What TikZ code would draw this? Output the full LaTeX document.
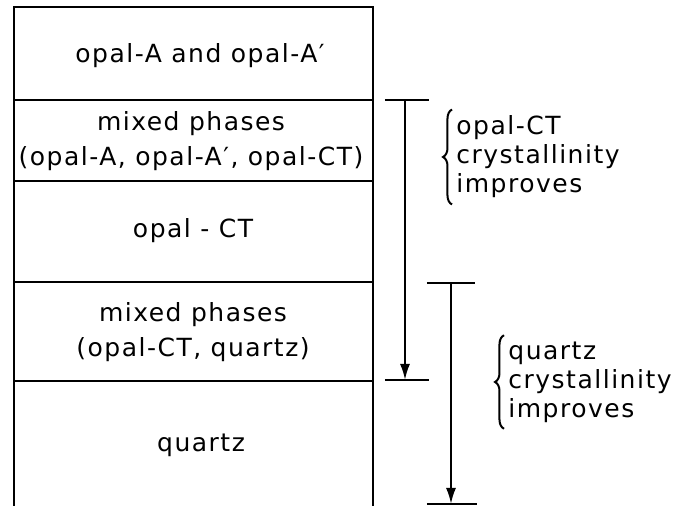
\documentclass[tikz,border=0pt]{standalone}
\usepackage{fontspec}
\setmainfont[LetterSpace=6]{DejaVu Sans}
\usetikzlibrary{arrows.meta,decorations.pathreplacing}

\tikzset{
  phase/.style={align=center, font=\fontsize{12.5}{17.5}\selectfont},
  note/.style={align=left, anchor=west, inner xsep=0pt, inner ysep=3pt,
    font=\fontsize{12.5}{14.5}\selectfont},
  bar/.style={line width=1pt},
  span/.style={line width=1pt, -{Latex[length=8pt,width=5pt]}},
  curly/.style={decorate, decoration={brace, amplitude=4.5pt}, line width=1pt}
}

\begin{document}
\begin{tikzpicture}[x=0.5pt,y=-0.5pt]
	\useasboundingbox (0,0) rectangle (677,506);
	% the column, open at the bottom
	\draw[bar] (14,506) -- (14,7) -- (373,7) -- (373,506);
	\foreach \y in {100,181,282,381}
		\draw[bar] (14,\y) -- (373,\y);
	\node[phase] (opalA) at (200,56) {opal-A and opal-A′};
	\node[phase] (mixA) at (191,141) {mixed phases\\(opal-A, opal-A′, opal-CT)};
	\node[phase] (opalCT) at (193,231) {opal - CT};
	\node[phase] (mixCT) at (193,332) {mixed phases\\(opal-CT, quartz)};
	\node[phase] (quartz) at (201,445) {quartz};
	% ranges
	\coordinate (ctTop) at (405,100);
	\coordinate (ctEnd) at (405,380);
	\coordinate (qzTop) at (451,283);
	\coordinate (qzEnd) at (451,504);
	\draw[span] (ctTop) -- (ctEnd);
	\draw[bar] ([xshift=-10pt]ctTop) -- ([xshift=12pt]ctTop);
	\draw[bar] ([xshift=-10pt]ctEnd) -- ([xshift=12pt]ctEnd);
	\draw[span] (qzTop) -- (qzEnd);
	\draw[bar] ([xshift=-12pt]qzTop) -- ([xshift=12pt]qzTop);
	\draw[bar] ([xshift=-12pt]qzEnd) -- ([xshift=13pt]qzEnd);
	% notes
	\node[note] (ctNote) at (456,157) {opal-CT\\crystallinity\\improves};
	\draw[curly] ([xshift=-2pt]ctNote.south west) -- ([xshift=-2pt]ctNote.north west);
	\node[note] (qzNote) at (508,382) {quartz\\crystallinity\\improves};
	\draw[curly] ([xshift=-2pt]qzNote.south west) -- ([xshift=-2pt]qzNote.north west);
\end{tikzpicture}
\end{document}
